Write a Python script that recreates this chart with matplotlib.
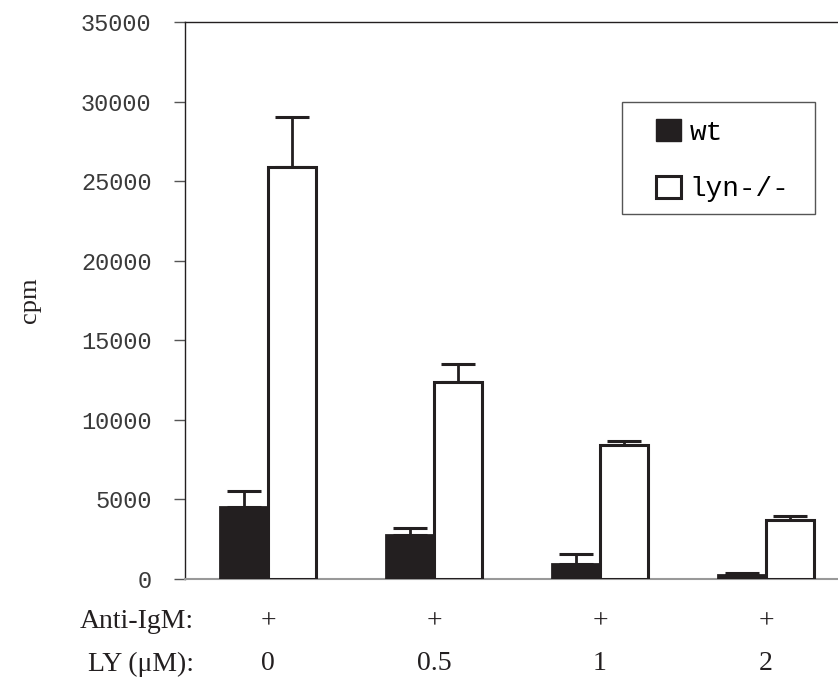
import matplotlib
matplotlib.use("Agg")
import matplotlib.pyplot as plt
import numpy as np
from matplotlib.patches import Patch, Rectangle

groups = ["0", "0.5", "1", "2"]
anti_igm = ["+", "+", "+", "+"]
wt = [4500, 2750, 950, 250]
wt_err = [1000, 450, 600, 100]
lyn = [25900, 12400, 8400, 3700]
lyn_err = [3100, 1100, 300, 250]
yticks = [0, 5000, 10000, 15000, 20000, 25000, 30000, 35000]

W, H = 838, 677
fig = plt.figure(figsize=(W/100, H/100), dpi=100)
ax = fig.add_axes([185/W, 98/H, 664/W, 557/H])

x = np.arange(len(groups))
w = 0.29
dark = "#231f20"
ax.bar(x - w/2, wt, w, color=dark, edgecolor=dark, linewidth=2, zorder=3)
ax.bar(x + w/2, lyn, w, color="white", edgecolor=dark, linewidth=2.2, zorder=3)
ax.errorbar(x - w/2, wt, yerr=[np.zeros(4), wt_err], fmt="none", ecolor=dark,
            elinewidth=2, capsize=12, capthick=2.2, zorder=2)
ax.errorbar(x + w/2, lyn, yerr=[np.zeros(4), lyn_err], fmt="none", ecolor=dark,
            elinewidth=2, capsize=12, capthick=2.2, zorder=2)

ax.set_xlim(-0.5, 3.5)
ax.set_ylim(0, 35000)
ax.set_yticks(yticks)
ax.set_yticklabels([str(t) for t in yticks], family="Liberation Mono",
                   fontsize=17, color="#3a3a3a")
ax.tick_params(axis="y", direction="out", length=8, width=1, color="#555555", pad=16)
ax.set_xticks([])
for s in ["left", "top"]:
    ax.spines[s].set_color(dark)
    ax.spines[s].set_linewidth(1)
ax.spines["bottom"].set_color("#999999")
ax.spines["bottom"].set_linewidth(1.5)
ax.spines["right"].set_visible(False)

fig.text(30/W, 1 - 300/H, "cpm", rotation=90, ha="center", va="center",
         family="Liberation Serif", fontsize=19, color=dark)

tf = dict(family="Liberation Serif", fontsize=20, color=dark, va="center")
fig.text(194/W, 1 - 622/H, "Anti-IgM:", ha="right", **tf)
fig.text(194/W, 1 - 664/H, "LY (\u03bcM):", ha="right", **tf)
for i, (a, g) in enumerate(zip(anti_igm, groups)):
    xf = ax.transData.transform((i, 0))[0] / fig.bbox.width
    fig.text(xf, 1 - 622/H, a, ha="center", **tf)
    fig.text(xf, 1 - 664/H, g, ha="center", **tf)

# legend frame
fig.patches.append(Rectangle((622/W, 1 - 214/H), 193/W, 112/H, transform=fig.transFigure,
                             facecolor="white", edgecolor="#555555", linewidth=1, zorder=4))
handles = [Patch(facecolor=dark, edgecolor=dark, label="wt"),
           Patch(facecolor="white", edgecolor=dark, linewidth=2.2, label="lyn-/-")]
leg = fig.legend(handles=handles, loc="upper left",
                 bbox_to_anchor=(656/W, 1 - 119/H),
                 prop={"family": "Liberation Mono", "size": 20},
                 frameon=False, handlelength=0.9, handleheight=0.85, handletextpad=0.3,
                 borderpad=0, labelspacing=1.08, borderaxespad=0)
leg.set_zorder(5)

fig.savefig("out.png", dpi=100)
